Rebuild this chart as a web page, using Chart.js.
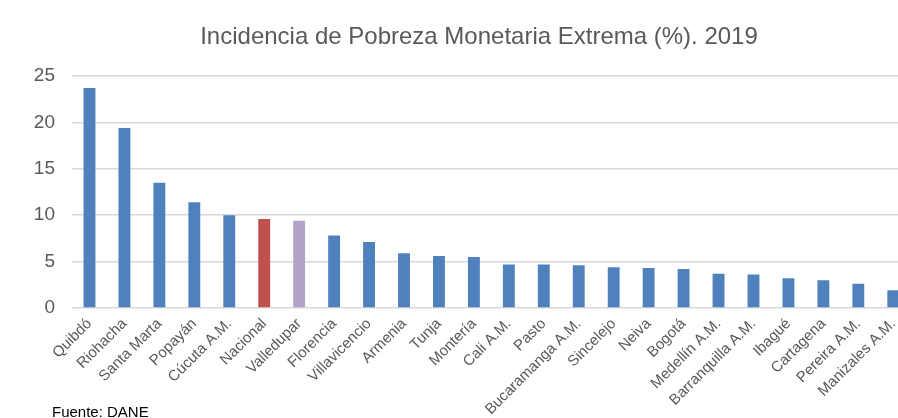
<!DOCTYPE html>
<html>
<head>
<meta charset="utf-8">
<script src="https://cdn.jsdelivr.net/npm/chart.js@4.4.1/dist/chart.umd.min.js"></script>
<style>
  html, body { margin:0; padding:0; background:#fff; overflow:hidden; width:898px; height:418px; }
  #wrap { position:absolute; left:0; top:0; width:913px; height:418px; }
  #note { position:absolute; left:52px; top:403px; font-family:"Liberation Sans", Arial, sans-serif; font-size:15px; color:#000; }
</style>
</head>
<body>
<div id="wrap"><canvas id="c" width="913" height="418"></canvas></div>
<div id="note">Fuente: DANE</div>
<script>
const categories = ["Quibdó","Riohacha","Santa Marta","Popayán","Cúcuta A.M.","Nacional","Valledupar","Florencia","Villavicencio","Armenia","Tunja","Montería","Cali A.M.","Pasto","Bucaramanga A.M.","Sincelejo","Neiva","Bogotá","Medellín A.M.","Barranquilla A.M.","Ibagué","Cartagena","Pereira A.M.","Manizales A.M."];
const values = [23.7,19.4,13.5,11.4,10.0,9.6,9.4,7.8,7.1,5.9,5.6,5.5,4.7,4.7,4.6,4.4,4.3,4.2,3.7,3.6,3.2,3.0,2.6,1.9];
const yTicks = [0,5,10,15,20,25];
const titleText = "Incidencia de Pobreza Monetaria Extrema (%). 2019";

const BLUE = "#4F81BD", RED = "#C0504D", PURPLE = "#B3A2C7";
const colors = categories.map(c => c === "Nacional" ? RED : (c === "Valledupar" ? PURPLE : BLUE));
const FONT = "'Liberation Sans', Arial, sans-serif";

const titlePlugin = {
  id: 'customTitle',
  afterDraw(chart) {
    const ctx = chart.ctx;
    ctx.save();
    ctx.font = "24px " + FONT;
    ctx.fillStyle = "#595959";
    ctx.textAlign = "center";
    ctx.textBaseline = "middle";
    ctx.fillText(titleText, 479, 37);
    ctx.restore();
  }
};

new Chart(document.getElementById('c'), {
  type: 'bar',
  data: {
    labels: categories,
    datasets: [{
      data: values,
      backgroundColor: colors,
      borderWidth: 0,
      barPercentage: 0.34,
      categoryPercentage: 1.0
    }]
  },
  options: {
    responsive: false,
    animation: false,
    layout: { padding: { top: 76, left: 0, right: 0, bottom: 0 } },
    plugins: { legend: { display: false }, title: { display: false }, tooltip: { enabled: false } },
    scales: {
      x: {
        grid: { display: false, drawTicks: false },
        border: { display: false },
        ticks: {
          color: "#595959",
          font: { family: FONT, size: 15 },
          minRotation: 45, maxRotation: 45,
          autoSkip: false,
          padding: 7
        },
        afterFit(s) { s.height = 110; }
      },
      y: {
        min: 0, max: 25,
        afterBuildTicks(s) { s.ticks = yTicks.map(v => ({ value: v })); },
        grid: { color: "#D9D9D9", lineWidth: 1.5, drawTicks: false },
        border: { display: false },
        ticks: {
          color: "#595959",
          font: { family: FONT, size: 19 },
          padding: 17
        },
        afterFit(s) { s.width = 72; }
      }
    }
  },
  plugins: [titlePlugin]
});
</script>
</body>
</html>
